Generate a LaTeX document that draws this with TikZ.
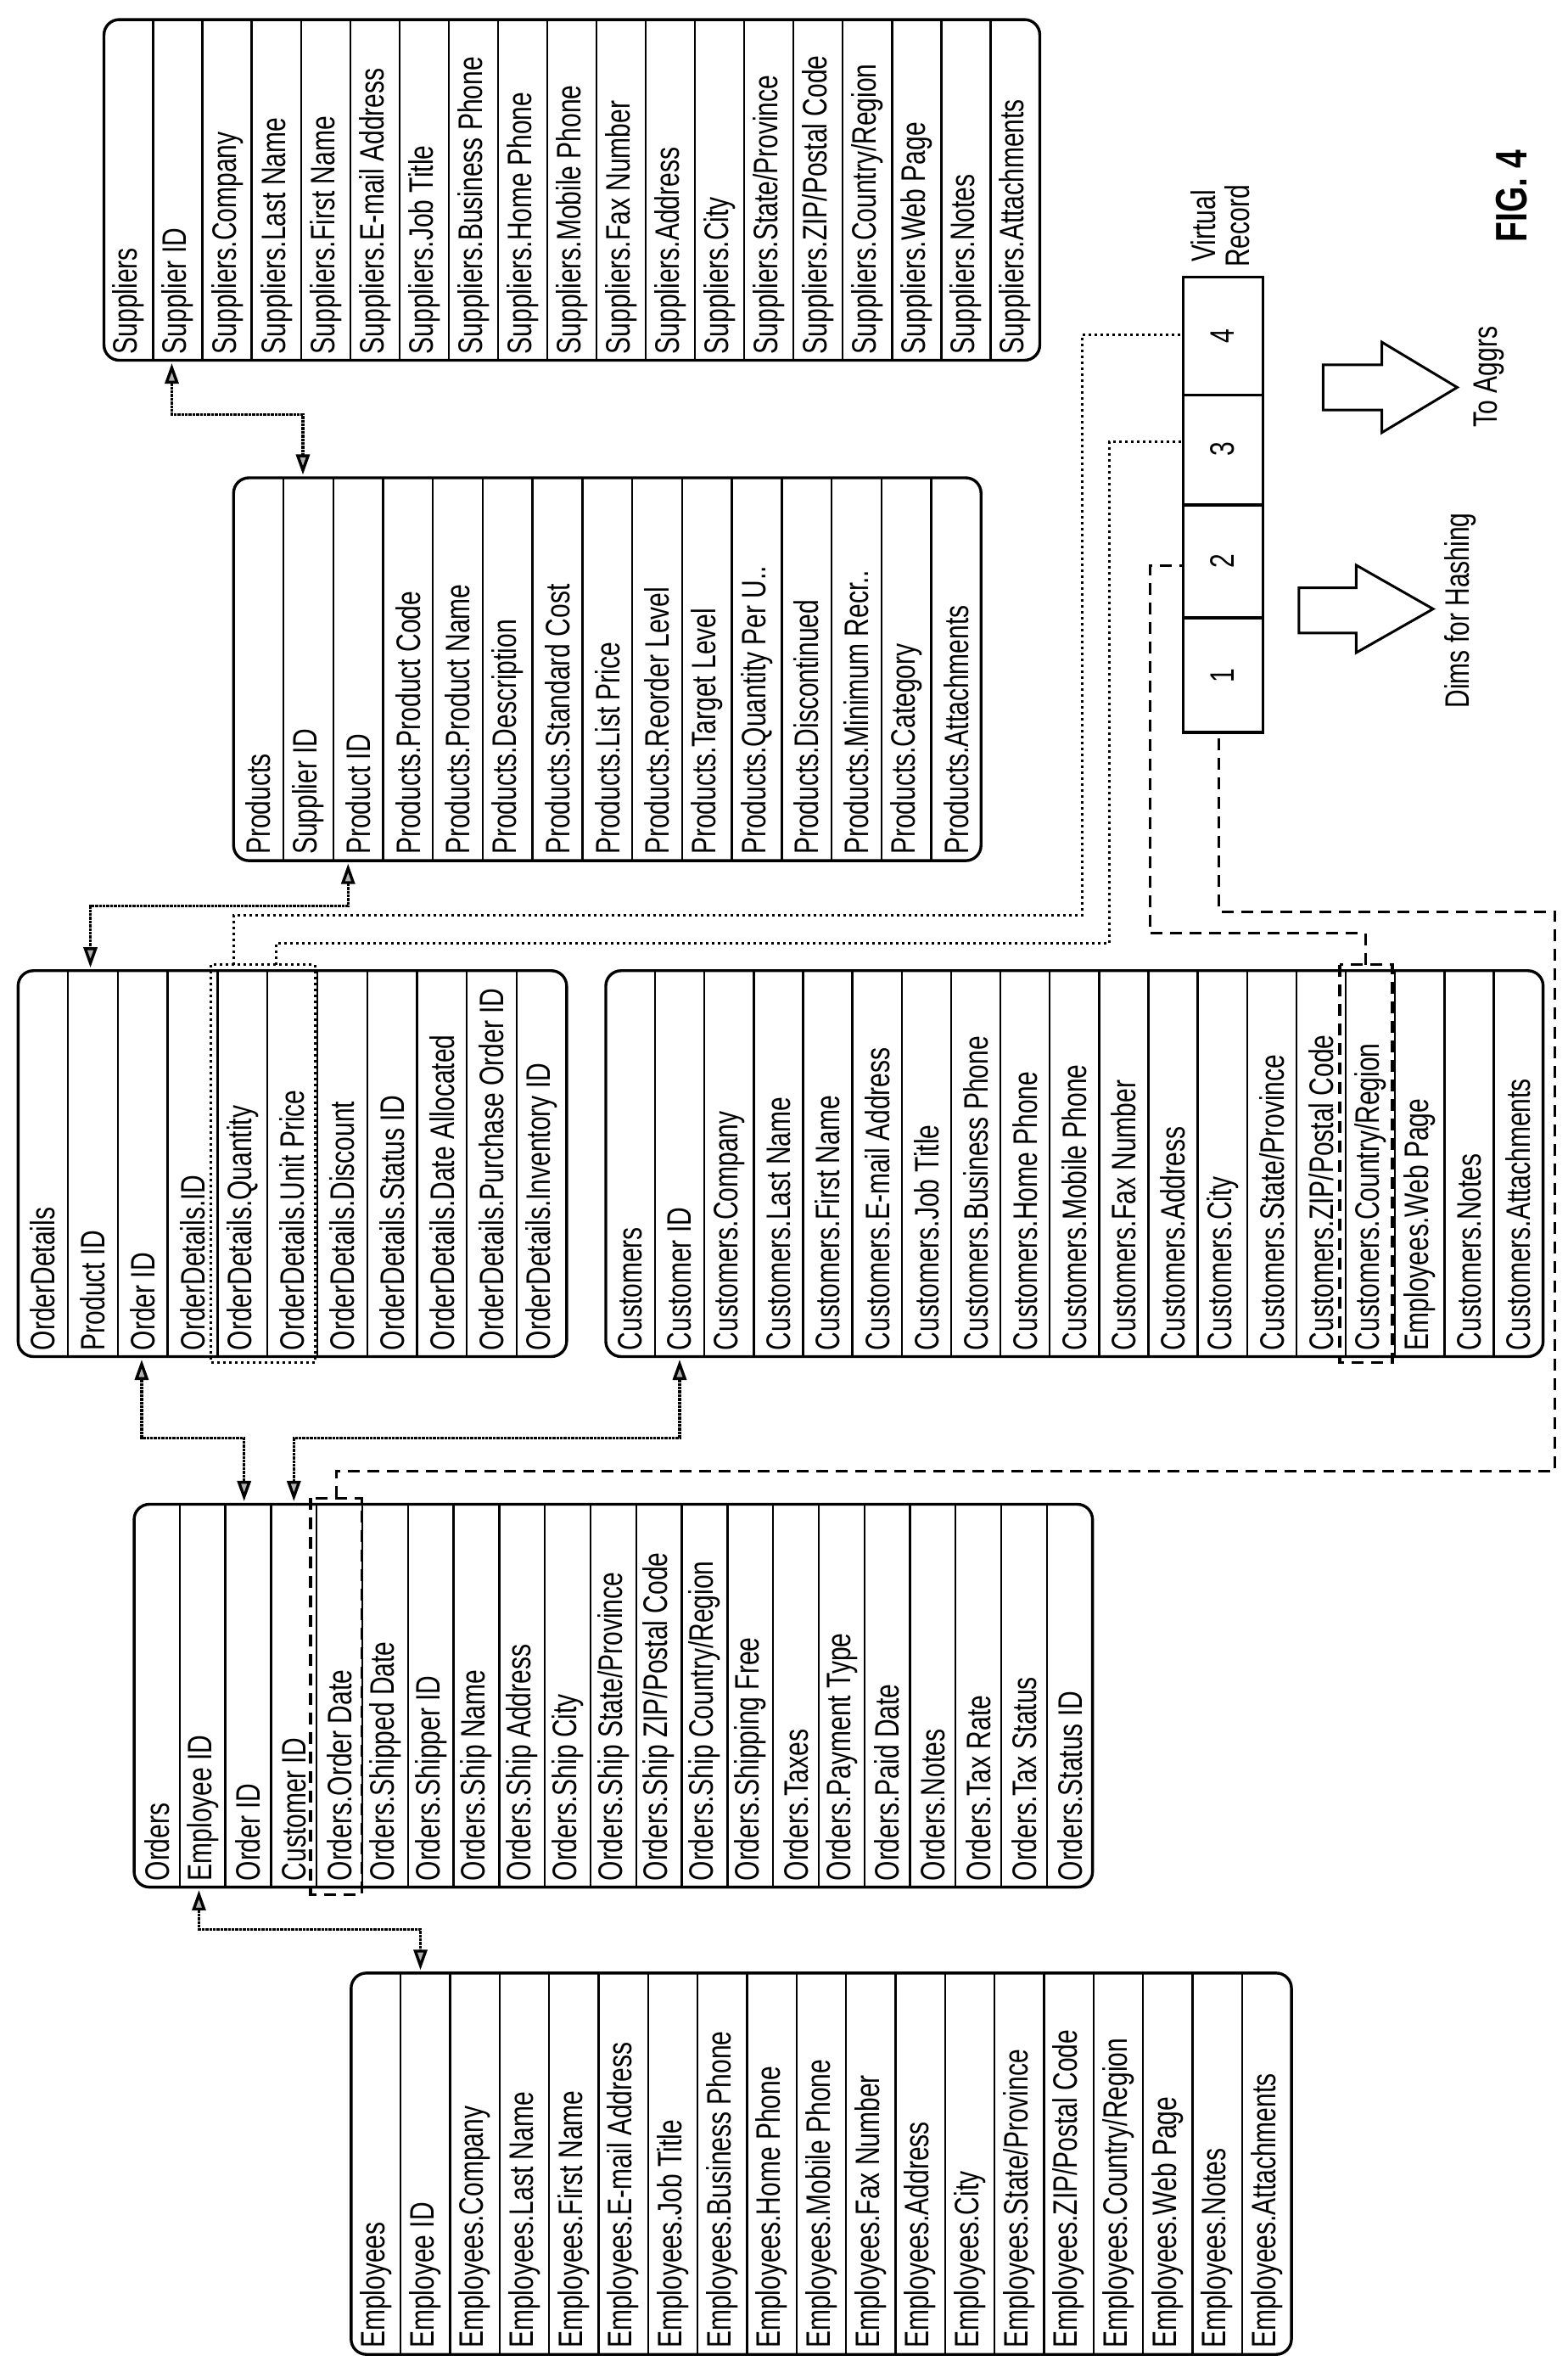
\documentclass[tikz,border=0pt]{standalone}
\usepackage{fontspec}
\setmainfont{Liberation Sans}[FakeStretch=0.75]
\usetikzlibrary{arrows.meta}
\newcommand\dbtab[7]{%
 \draw[tbl] (#2,#3) rectangle (#4,#5);
 \foreach \t [count=\i] in {#7} {
   \pgfmathsetmacro\cx{#2+(\i-0.5)*(#4-#2)/#6}
   \node[fld] (#1-\i) at (\cx,#5-4) {\t};
   \ifnum\i<#6 \pgfmathsetmacro\lx{#2+\i*(#4-#2)/#6}\draw[line width=2.4pt] (\lx,#3) -- (\lx,#5);\fi
 }}
\begin{document}
\begin{tikzpicture}[x=1.776pt,y=-1.776pt,
 tbl/.style={line width=3.4pt,rounded corners=18pt},
 fld/.style={rotate=90,anchor=west,inner sep=0pt,font=\fontsize{40}{40}\selectfont},
 link/.style={line width=3.4pt,densely dotted,{Triangle[length=24pt,width=16pt,fill=gray!60]}-{Triangle[length=24pt,width=16pt,fill=gray!60]}},
 dsh/.style={line width=3pt,dash pattern=on 14pt off 9pt},
 dot/.style={line width=3pt,dash pattern=on 3pt off 4pt},
 hl/.style={line width=3.4pt,dash pattern=on 14pt off 9pt},
 big/.style={line width=3pt,fill=white}]
\useasboundingbox (0,0) rectangle (1040,1566.4);
\dbtab{sup}{69}{13}{690}{239}{19}{Suppliers,Supplier ID,Suppliers.Company,Suppliers.Last Name,Suppliers.First Name,Suppliers.E-mail Address,Suppliers.Job Title,Suppliers.Business Phone,Suppliers.Home Phone,Suppliers.Mobile Phone,Suppliers.Fax Number,Suppliers.Address,Suppliers.City,Suppliers.State/Province,Suppliers.ZIP/Postal Code,Suppliers.Country/Region,Suppliers.Web Page,Suppliers.Notes,Suppliers.Attachments}
\dbtab{pro}{155}{317}{651}{571}{15}{Products,Supplier ID,Product ID,Products.Product Code,Products.Product Name,Products.Description,Products.Standard Cost,Products.List Price,Products.Reorder Level,Products.Target Level,Products.Quantity Per U..,Products.Discontinued,Products.Minimum Recr..,Products.Category,Products.Attachments}
\dbtab{od}{12}{644}{376}{900}{11}{OrderDetails,Product ID,Order ID,OrderDetails.ID,OrderDetails.Quantity,OrderDetails.Unit Price,OrderDetails.Discount,OrderDetails.Status ID,OrderDetails.Date Allocated,OrderDetails.Purchase Order ID,OrderDetails.Inventory ID}
\dbtab{cus}{402}{644}{1024}{900}{19}{Customers,Customer ID,Customers.Company,Customers.Last Name,Customers.First Name,Customers.E-mail Address,Customers.Job Title,Customers.Business Phone,Customers.Home Phone,Customers.Mobile Phone,Customers.Fax Number,Customers.Address,Customers.City,Customers.State/Province,Customers.ZIP/Postal Code,Customers.Country/Region,Employees.Web Page,Customers.Notes,Customers.Attachments}
\dbtab{ord}{89}{998}{725}{1252}{21}{Orders,Employee ID,Order ID,Customer ID,Orders.Order Date,Orders.Shipped Date,Orders.Shipper ID,Orders.Ship Name,Orders.Ship Address,Orders.Ship City,Orders.Ship State/Province,Orders.Ship ZIP/Postal Code,Orders.Ship Country/Region,Orders.Shipping Free,Orders.Taxes,Orders.Payment Type,Orders.Paid Date,Orders.Notes,Orders.Tax Rate,Orders.Tax Status,Orders.Status ID}
\dbtab{emp}{233}{1309}{857}{1562}{19}{Employees,Employee ID,Employees.Company,Employees.Last Name,Employees.First Name,Employees.E-mail Address,Employees.Job Title,Employees.Business Phone,Employees.Home Phone,Employees.Mobile Phone,Employees.Fax Number,Employees.Address,Employees.City,Employees.State/Province,Employees.ZIP/Postal Code,Employees.Country/Region,Employees.Web Page,Employees.Notes,Employees.Attachments}
% relationship links
\draw[link] (114,241) -- (114,275) -- (201,275) -- (201,315);
\draw[link] (231,573) -- (231,601) -- (60,601) -- (60,642);
\draw[link] (94,902) -- (94,954) -- (162,954) -- (162,996);
\draw[link] (451,902) -- (451,954) -- (195,954) -- (195,996);
\draw[link] (132,1254) -- (132,1280) -- (279,1280) -- (279,1307);
% highlight boxes
\draw[hl] (206,994) rectangle (240,1257);
\draw[hl] (889,640) rectangle (924,904);
\draw[dot] (140,640) rectangle (209,904);
% virtual record
\draw[line width=3.4pt] (785,184) rectangle (838,486);
\foreach \y in {262,335,410} \draw[line width=3.4pt] (785,\y) -- (838,\y);
\node[fld,anchor=center] (v4) at (811,223) {4};
\node[fld,anchor=center] (v3) at (811,298) {3};
\node[fld,anchor=center] (v2) at (811,372) {2};
\node[fld,anchor=center] (v1) at (811,448) {1};
\node[fld,anchor=center,align=center] (vr) at (810,150) {Virtual\\Record};
% dashed / dotted feeds
\draw[dsh] (223,994) -- (223,976) -- (1032,976) -- (1032,605) -- (809,605) -- (809,486);
\draw[dsh] (906,640) -- (906,619) -- (763,619) -- (763,375) -- (785,375);
\draw[dot] (155,640) -- (155,607) -- (718,607) -- (718,222) -- (785,222);
\draw[dot] (183,640) -- (183,626) -- (736,626) -- (736,293) -- (785,293);
% big arrows
\draw[big] (862,390) -- (900,390) -- (900,375) -- (951,404) -- (900,433) -- (900,420) -- (862,420) -- cycle;
\draw[big] (878,242) -- (917,242) -- (917,227) -- (967,257) -- (917,287) -- (917,272) -- (878,272) -- cycle;
\node[fld,anchor=center] (dh) at (969,405) {Dims for Hashing};
\node[fld,anchor=center] (ta) at (988,250) {To Aggrs};
\node[rotate=90,inner sep=0pt,font=\fontsize{52}{52}\selectfont\bfseries] (fig) at (1003,130) {FIG. 4};
\end{tikzpicture}
\end{document}
